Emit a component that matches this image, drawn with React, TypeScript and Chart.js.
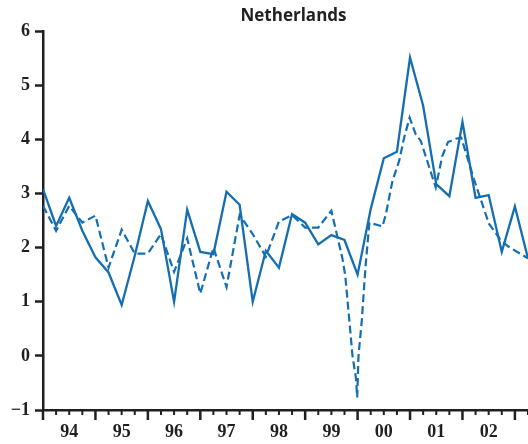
import React, { useEffect, useRef } from 'react';
import { Chart, registerables } from 'chart.js';

Chart.register(...registerables);

// ---- data (x = quarter index starting 1994Q1) ----
const yearLabels = ['94', '95', '96', '97', '98', '99', '00', '01', '02'];
const yTickValues = [-1, 0, 1, 2, 3, 4, 5, 6];

const solidValues = [
  3.08, 2.40, 2.92, 2.31, 1.82, 1.54, 0.94, 1.85, 2.86, 2.34,
  1.00, 2.70, 1.92, 1.88, 3.03, 2.79, 1.00, 1.94, 1.63, 2.62,
  2.46, 2.06, 2.23, 2.14, 1.50, 2.71, 3.65, 3.77, 5.51, 4.62,
  3.17, 2.95, 4.32, 2.92, 2.97, 1.92, 2.76, 1.80,
];

const dashedX = [
  0, 1, 2, 3, 4, 5, 6, 7, 8, 9, 10, 11, 12, 13, 14, 15, 16, 17, 18, 19, 20, 21, 22,
  22.85, 23.06, 23.36, 23.61, 23.87, 23.97, 24.07, 24.33, 24.5, 24.63, 24.9, 25.9,
  26.16, 26.66, 27.17, 27.55, 27.97, 28.44, 28.82, 29.96, 30.46, 30.9, 31.48, 31.91,
  32.88, 34.02, 34.9, 35.5, 37,
];
const dashedY = [
  2.77, 2.31, 2.77, 2.46, 2.59, 1.63, 2.33, 1.89, 1.89, 2.25, 1.55, 2.17, 1.15, 2.00,
  1.27, 2.60, 2.25, 1.83, 2.48, 2.60, 2.37, 2.37, 2.68,
  1.79, 1.48, 0.68, 0.0, -0.40, -0.77, 0.0, 0.68, 1.29, 1.72, 2.46, 2.39,
  2.62, 3.23, 3.60, 4.03, 4.40, 4.09, 3.97, 3.11, 3.69, 3.95, 4.01, 4.03,
  3.26, 2.44, 2.14, 2.02, 1.80,
];

const TITLE = 'Netherlands';
const AXIS = '#231f20';
const BLUE = '#146eb0';
const TICK_FONT = { family: '"Liberation Serif", serif', weight: 'bold' as const, size: 18 };

const axisPlugin = {
  id: 'customAxis',
  afterDraw(chart: any) {
    const { ctx, chartArea } = chart;
    const xs = chart.scales.x;
    ctx.save();
    ctx.strokeStyle = AXIS;
    for (let k = Math.ceil(xs.min); k <= xs.max; k++) {
      const px = xs.getPixelForValue(k);
      const major = k % 4 === 0;
      ctx.lineWidth = major ? 2.5 : 2;
      ctx.beginPath();
      ctx.moveTo(px, chartArea.bottom);
      ctx.lineTo(px, chartArea.bottom + (major ? 10 : 5));
      ctx.stroke();
    }
    ctx.fillStyle = AXIS;
    ctx.font = 'bold 17px "Open Sans", Lato, sans-serif';
    ctx.textAlign = 'center';
    ctx.textBaseline = 'alphabetic';
    ctx.fillText(TITLE, (chartArea.left + chartArea.right) / 2 + 8, 21);
    ctx.restore();
  },
};

export default function App() {
  const ref = useRef<HTMLCanvasElement | null>(null);

  useEffect(() => {
    document.body.style.margin = '0';
    if (!ref.current) return;
    const chart = new Chart(ref.current, {
      type: 'line',
      data: {
        datasets: [
          {
            data: dashedX.map((x, i) => ({ x, y: dashedY[i] })),
            borderColor: BLUE,
            borderWidth: 2.2,
            borderDash: [8, 4],
            pointRadius: 0,
            tension: 0,
          },
          {
            data: solidValues.map((v, i) => ({ x: i, y: v })),
            borderColor: BLUE,
            borderWidth: 2.3,
            pointRadius: 0,
            tension: 0,
          },
        ],
      },
      options: {
        animation: false,
        responsive: false,
        devicePixelRatio: 1,
        layout: { padding: { top: 31, right: 0, left: 0, bottom: 0 } },
        plugins: { legend: { display: false }, tooltip: { enabled: false }, title: { display: false } },
        scales: {
          x: {
            type: 'linear',
            min: 0,
            max: 37,
            border: { color: AXIS, width: 2.5 },
            grid: { drawOnChartArea: false, drawTicks: false },
            ticks: {
              padding: 12,
              font: TICK_FONT,
              color: AXIS,
              autoSkip: false,
              maxRotation: 0,
              callback: (v: any) => yearLabels[(Number(v) - 2) / 4] ?? '',
            },
            afterBuildTicks: (s: any) => {
              s.ticks = yearLabels.map((_, i) => ({ value: 2 + 4 * i }));
            },
            afterFit: (s: any) => {
              s.height = 34;
            },
          },
          y: {
            type: 'linear',
            min: -1,
            max: 6,
            border: { color: AXIS, width: 2.5 },
            grid: { drawOnChartArea: false, tickLength: 8, tickColor: AXIS, tickWidth: 2.5 },
            ticks: {
              padding: 5,
              font: TICK_FONT,
              color: AXIS,
              callback: (v: any) => (Number(v) < 0 ? '\u2212' + Math.abs(Number(v)) : String(v)),
            },
            afterBuildTicks: (s: any) => {
              s.ticks = yTickValues.map((value) => ({ value }));
            },
            afterFit: (s: any) => {
              s.width = 43;
            },
          },
        },
      },
      plugins: [axisPlugin],
    });
    return () => chart.destroy();
  }, []);

  return (
    <div style={{ width: 528, height: 444 }}>
      <canvas ref={ref} width={528} height={444} style={{ display: 'block' }} />
    </div>
  );
}
